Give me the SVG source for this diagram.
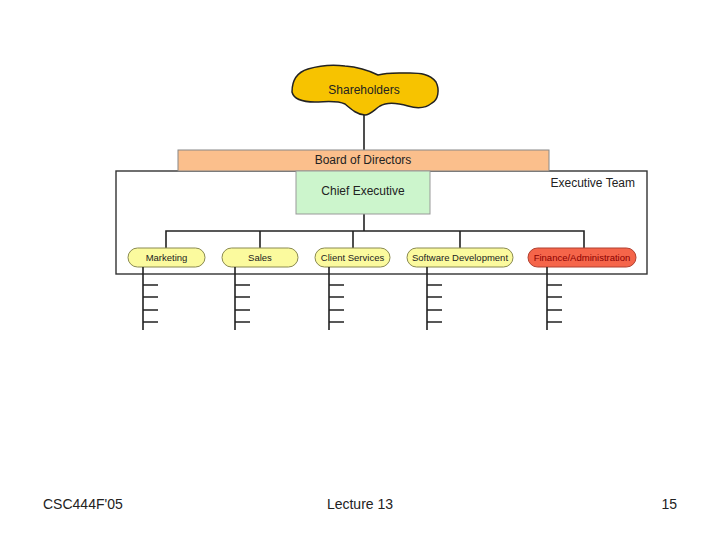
<svg xmlns="http://www.w3.org/2000/svg" width="720" height="540" viewBox="0 0 720 540">
<style>
text{font-family:"Liberation Sans",Arial,sans-serif;fill:#222}
.ln{stroke:#222;stroke-width:1.6;fill:none}
.pill{fill:#fbfa9e;stroke:#8a8a50;stroke-width:1}
.t9{font-size:9.5px;text-anchor:middle}
.t12{font-size:12px;text-anchor:middle}
.leg{stroke:#222;stroke-width:1.6;fill:none}
</style>
<rect width="720" height="540" fill="#fff"/>
<g id="executive-team">
<rect x="116" y="171" width="531" height="103" fill="#fff" stroke="#333" stroke-width="1.4"/>
<text x="635" y="187" style="font-size:12px;text-anchor:end">Executive Team</text>
</g>
<g id="connectors">
<line class="ln" x1="364" y1="114" x2="364" y2="150"/>
<line class="ln" x1="364" y1="214" x2="364" y2="231"/>
<polyline class="ln" points="166,248 166,231 584,231 584,248"/>
<line class="ln" x1="260" y1="231" x2="260" y2="248"/>
<line class="ln" x1="353" y1="231" x2="353" y2="248"/>
<line class="ln" x1="460" y1="231" x2="460" y2="248"/>
</g>
<g id="shareholders">
<path d="M292,92 C292,80 298,72 308,69 C318,66 330,64 345,66 C358,67 368,70 378,75 C388,72 398,73 410,73 C420,73 430,74 436,82 C440,90 438,100 432,103 C426,108 418,109 408,106 C398,103 388,101 380,106 C374,110 370,115 365,115 C358,115 352,110 345,104 C336,100 326,102 315,102 C303,102 294,100 292,92 Z" fill="#f7c300" stroke="#222" stroke-width="1.5"/>
<text class="t12" x="364" y="94">Shareholders</text>
</g>
<g id="board">
<rect x="178" y="150" width="371" height="21" fill="#fbbf8c" stroke="#888" stroke-width="1"/>
<text class="t12" x="363" y="164">Board of Directors</text>
</g>
<g id="chief-executive">
<rect x="296" y="171" width="134" height="43" fill="#ccf5cc" stroke="#999" stroke-width="1"/>
<text class="t12" x="363" y="195">Chief Executive</text>
</g>
<g id="marketing">
<rect class="pill" x="128" y="248" width="77" height="19" rx="9.5"/>
<text class="t9" x="166.5" y="261">Marketing</text>
</g>
<g id="sales">
<rect class="pill" x="222" y="248" width="76" height="19" rx="9.5"/>
<text class="t9" x="260" y="261">Sales</text>
</g>
<g id="client-services">
<rect class="pill" x="315" y="248" width="75" height="19" rx="9.5"/>
<text class="t9" x="352.5" y="261">Client Services</text>
</g>
<g id="software-development">
<rect class="pill" x="407" y="248" width="106" height="19" rx="9.5"/>
<text class="t9" x="460" y="261">Software Development</text>
</g>
<g id="finance-administration">
<rect x="528" y="248" width="108" height="19" rx="9.5" fill="#f5654a" stroke="#b04030" stroke-width="1"/>
<text class="t9" x="582" y="261" style="fill:#8a0000">Finance/Administration</text>
</g>
<g id="staff-legs">
<path class="leg" d="M143,267 V330 M143,285 h15 M143,297 h15 M143,310 h15 M143,322 h15"/>
<path class="leg" d="M235,267 V330 M235,285 h15 M235,297 h15 M235,310 h15 M235,322 h15"/>
<path class="leg" d="M329,267 V330 M329,285 h15 M329,297 h15 M329,310 h15 M329,322 h15"/>
<path class="leg" d="M427,267 V330 M427,285 h15 M427,297 h15 M427,310 h15 M427,322 h15"/>
<path class="leg" d="M547,267 V330 M547,285 h15 M547,297 h15 M547,310 h15 M547,322 h15"/>
</g>
<g id="footer">
<text x="43" y="509" style="font-size:14px">CSC444F'05</text>
<text x="360" y="509" style="font-size:14px;text-anchor:middle">Lecture 13</text>
<text x="677" y="509" style="font-size:14px;text-anchor:end">15</text>
</g>
</svg>
